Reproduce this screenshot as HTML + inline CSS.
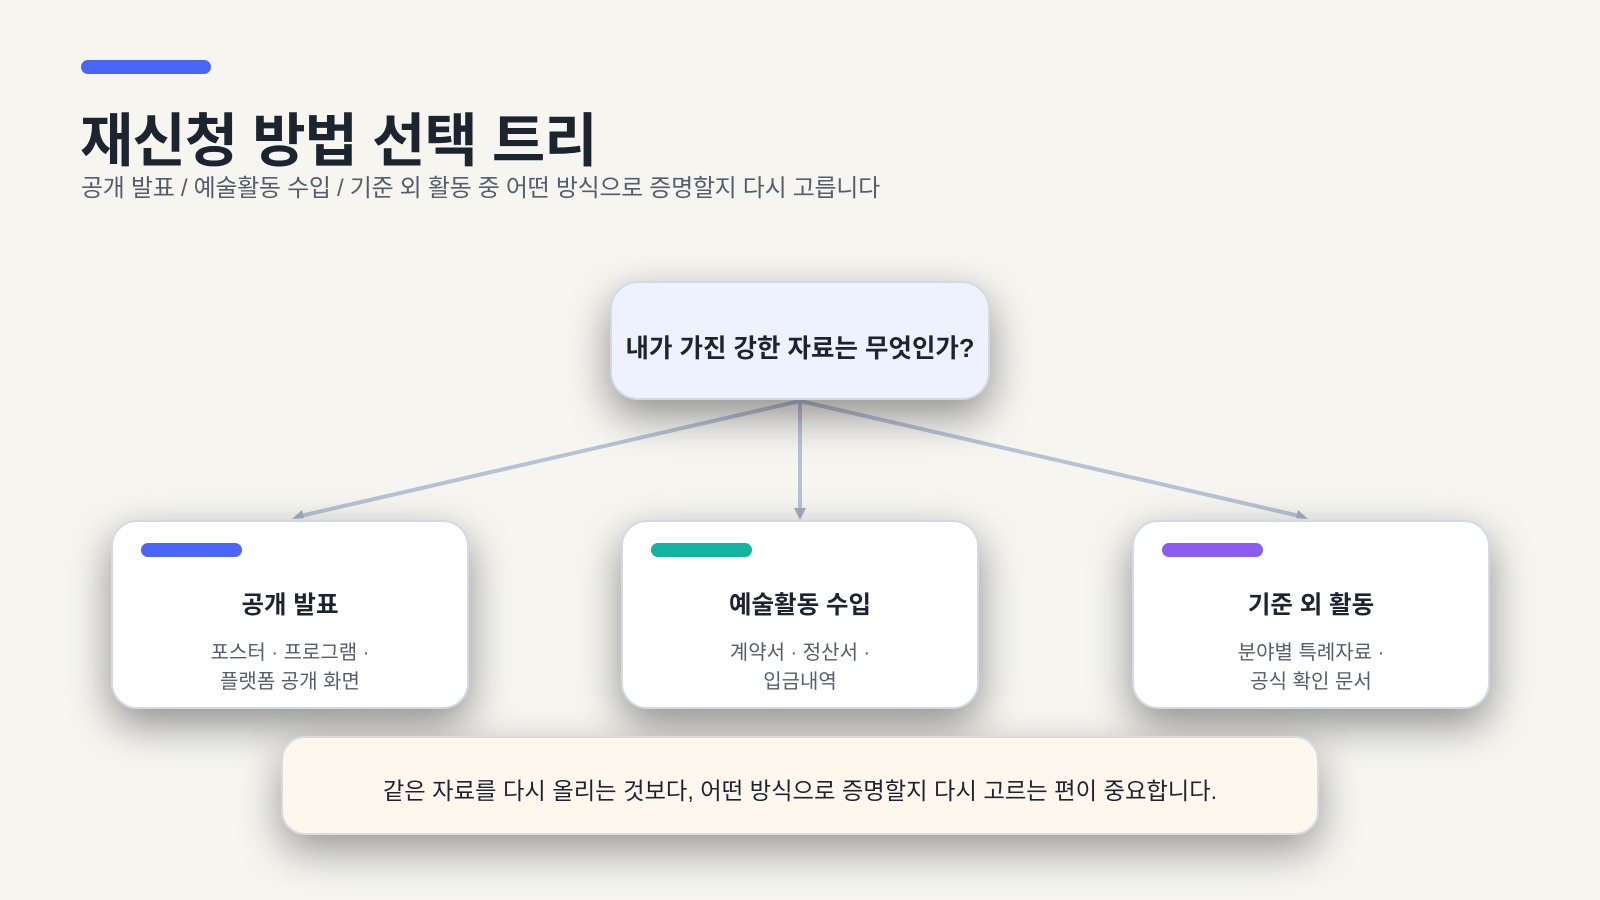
<!DOCTYPE html>
<html><head><meta charset="utf-8"><style>
*{margin:0;padding:0;box-sizing:border-box}
body{width:1600px;height:900px;background:#f6f5f0;font-family:"Liberation Sans","Noto Sans CJK KR",sans-serif;position:relative;overflow:hidden;color:#1c2430}
.abs{position:absolute}
.bar{left:81px;top:60px;width:130px;height:14px;border-radius:7px;background:#4a66f5}
h1{position:absolute;left:80px;top:107px;font-size:58px;font-weight:700;letter-spacing:-1px;color:#1c2430;line-height:1.2}
.sub{left:81px;top:168px;font-size:24px;color:#555e6c;letter-spacing:-0.3px}
.root{left:610px;top:281px;width:380px;height:119px;border-radius:28px;background:#edf2fe;border:2px solid #d3d9e6;box-shadow:0 16px 42px rgba(0,0,0,0.42);display:flex;align-items:center;justify-content:center;font-size:25.5px;font-weight:700;padding-top:12px}
.card{top:520px;width:358px;height:189px;border-radius:26px;background:#fff;border:2px solid #d3d9e6;box-shadow:0 16px 42px rgba(0,0,0,0.42);text-align:center}
.pill{position:absolute;left:28px;top:21px;width:101px;height:14px;border-radius:7px}
.ct{position:absolute;left:0;right:0;top:64px;font-size:24.5px;font-weight:700}
.cd{position:absolute;left:0;right:0;top:117px;font-size:20px;line-height:29px;color:#555e6c}
.bot{left:281px;top:736px;width:1038px;height:99px;border-radius:24px;background:#fdf7ee;border:2px solid #d8dbe2;box-shadow:0 16px 42px rgba(0,0,0,0.38);display:flex;align-items:center;justify-content:center;font-size:23.3px;color:#1c2430;padding-top:6px}
</style></head><body>
<div class="abs bar"></div>
<h1>재신청 방법 선택 트리</h1>
<div class="abs sub">공개 발표 / 예술활동 수입 / 기준 외 활동 중 어떤 방식으로 증명할지 다시 고릅니다</div>
<svg class="abs" style="left:0;top:0" width="1600" height="900">
<g stroke="#b8c2d6" stroke-width="4" fill="none">
<line x1="800" y1="401" x2="296" y2="517"/>
<line x1="800" y1="401" x2="800" y2="512"/>
<line x1="800" y1="401" x2="1304" y2="517"/>
</g>
<g fill="#a3aec4">
<polygon points="292,519 302,510 304,518"/>
<polygon points="800,520 794,508 806,508"/>
<polygon points="1308,519 1296,518 1298,510"/>
</g>
</svg>
<div class="abs root">내가 가진 강한 자료는 무엇인가?</div>
<div class="abs card" style="left:111px"><div class="pill" style="background:#4a66f5"></div><div class="ct">공개 발표</div><div class="cd">포스터 · 프로그램 ·<br>플랫폼 공개 화면</div></div>
<div class="abs card" style="left:621px"><div class="pill" style="background:#14b3a0"></div><div class="ct">예술활동 수입</div><div class="cd">계약서 · 정산서 ·<br>입금내역</div></div>
<div class="abs card" style="left:1132px"><div class="pill" style="background:#8b5cf0"></div><div class="ct">기준 외 활동</div><div class="cd">분야별 특례자료 ·<br>공식 확인 문서</div></div>
<div class="abs bot">같은 자료를 다시 올리는 것보다, 어떤 방식으로 증명할지 다시 고르는 편이 중요합니다.</div>
</body></html>
